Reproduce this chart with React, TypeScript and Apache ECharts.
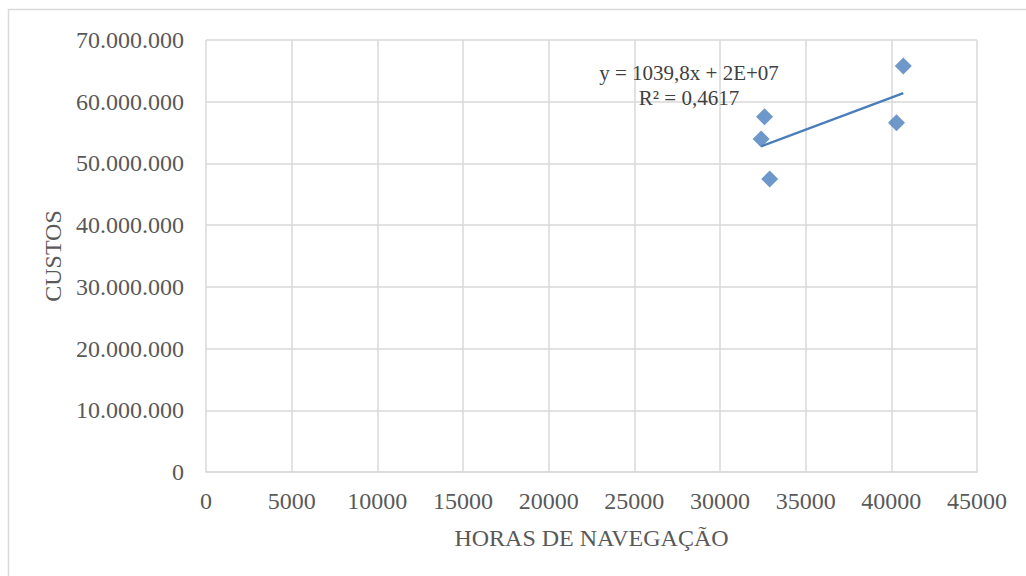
import React, { useEffect, useRef } from "react";
import * as echarts from "echarts";

// Navigation hours (x) and costs (y) for each observation
const hours = [32400, 32600, 32900, 40300, 40700];
const costs = [53960000, 57570000, 47480000, 56600000, 65790000];

// Linear trendline as reported in the equation label
const trendSlope = 1039.8;
const equationLines = ["y = 1039,8x + 2E+07", "R² = 0,4617"];

const xTicks = { min: 0, max: 45000, interval: 5000 };
const yTicks = { min: 0, max: 70000000, interval: 10000000 };

const FONT = "'Liberation Serif', 'Times New Roman', serif";

function formatThousands(v: number): string {
  const s = Math.round(v).toString();
  return s.replace(/\B(?=(\d{3})+(?!\d))/g, ".");
}

export default function App() {
  const ref = useRef<HTMLDivElement>(null);

  useEffect(() => {
    if (!ref.current) return;
    const chart = echarts.init(ref.current, undefined, { renderer: "svg" });

    const points = hours.map((h, i) => [h, costs[i]]);
    // Trendline passes through the mean point with the stated slope
    const meanX = hours.reduce((a, b) => a + b, 0) / hours.length;
    const meanY = costs.reduce((a, b) => a + b, 0) / costs.length;
    const intercept = meanY - trendSlope * meanX;
    const x0 = Math.min(...hours);
    const x1 = Math.max(...hours);
    const trend = [
      [x0, trendSlope * x0 + intercept],
      [x1, trendSlope * x1 + intercept],
    ];

    const labelStyle = { color: "#595959", fontSize: 24, fontFamily: FONT };

    chart.setOption({
      animation: false,
      backgroundColor: "#ffffff",
      grid: { left: 206, right: 49, top: 40, bottom: 104, containLabel: false },
      xAxis: {
        type: "value",
        min: xTicks.min,
        max: xTicks.max,
        interval: xTicks.interval,
        name: "HORAS DE NAVEGAÇÃO",
        nameLocation: "middle",
        nameGap: 54,
        nameTextStyle: labelStyle,
        axisLine: { show: true, lineStyle: { color: "#d9d9d9", width: 1.5 } },
        axisTick: { show: false },
        axisLabel: { ...labelStyle, margin: 17, formatter: (v: number) => String(v) },
        splitLine: { show: true, lineStyle: { color: "#d9d9d9", width: 1.5 } },
      },
      yAxis: {
        type: "value",
        min: yTicks.min,
        max: yTicks.max,
        interval: yTicks.interval,
        name: "CUSTOS",
        nameLocation: "middle",
        nameGap: 140,
        nameRotate: 90,
        nameTextStyle: labelStyle,
        axisLine: { show: false },
        axisTick: { show: false },
        axisLabel: { ...labelStyle, margin: 22, formatter: (v: number) => formatThousands(v) },
        splitLine: { show: true, lineStyle: { color: "#d9d9d9", width: 1.5 } },
      },
      graphic: [
        {
          type: "rect",
          shape: { x: 8.5, y: 9.5, width: 1040, height: 600 },
          style: { fill: "none", stroke: "#d9d9d9", lineWidth: 1.5 },
          z: 0,
        },
        {
          type: "text",
          x: 689,
          y: 85.5,
          style: {
            text: equationLines.join("\n"),
            fill: "#404040",
            font: `21px ${FONT}`,
            textAlign: "center",
            textVerticalAlign: "middle",
            lineHeight: 25,
          },
          z: 10,
        },
      ],
      series: [
        {
          type: "scatter",
          data: points,
          symbol: "diamond",
          symbolSize: 17,
          itemStyle: { color: "#4a7ebb" },
          z: 3,
        },
        {
          type: "line",
          data: trend,
          symbol: "none",
          lineStyle: { color: "#4a7ebb", width: 2.5 },
          z: 2,
        },
      ],
    });

    return () => chart.dispose();
  }, []);

  return (
    <div
      ref={ref}
      style={{ position: "fixed", left: 0, top: 0, width: 1026, height: 576, background: "#fff" }}
    />
  );
}
